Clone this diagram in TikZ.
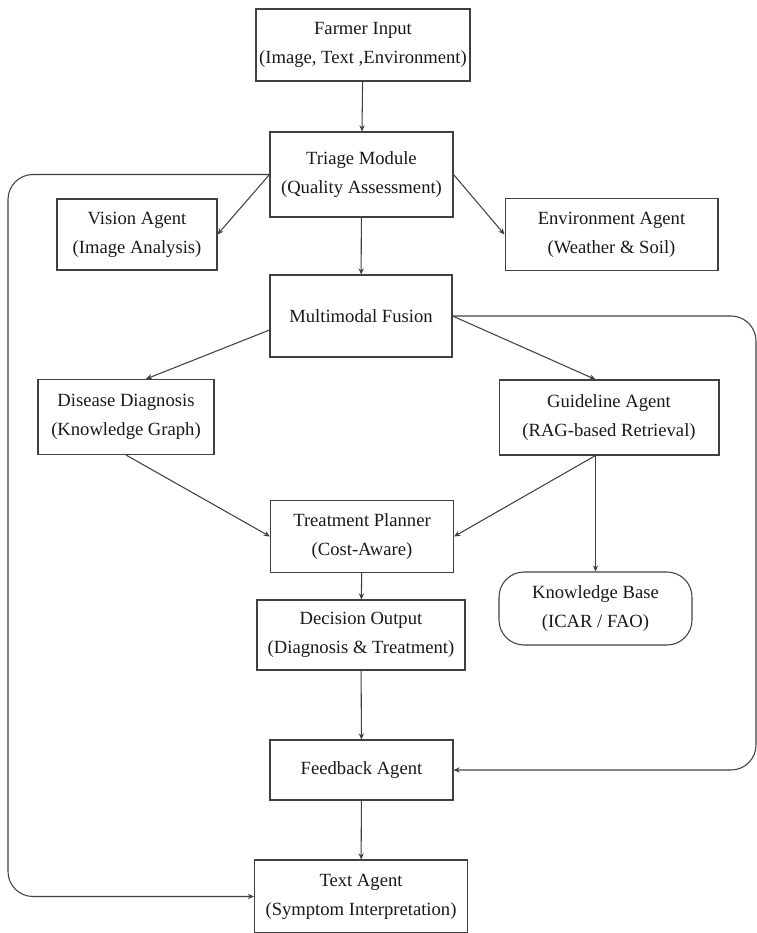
\documentclass[tikz,border=0pt]{standalone}
\usepackage{fontspec}
\setmainfont{Liberation Serif}
\usetikzlibrary{arrows.meta}

\begin{document}
\begin{tikzpicture}[
       x=0.02cm, y=-0.02cm,
       line width=0.6pt,
       draw=black!75,
       font=\fontsize{10.6}{16.5}\selectfont,
       bloc/.style={
         draw,
         rectangle,
         align=center,
         inner sep=0pt,
         text=black!90
       },
       kbloc/.style={
         bloc,
         rounded corners=0.5cm
       },
       fl/.style={
         -{Stealth[length=3.5pt,width=3pt]}
       }
     ]

       \useasboundingbox (0,0) rectangle (757,933);

       \node (b1) at (363,45) [bloc,minimum width=4.28cm,minimum height=1.44cm]{Farmer Input\\(Image, Text ,Environment)};
       \node (b2) at (361.5,174.5) [bloc,minimum width=3.66cm,minimum height=1.7cm]{Triage Module\\(Quality Assessment)};
       \node (b3) at (137,234.5) [bloc,minimum width=3.2cm,minimum height=1.42cm]{Vision Agent\\(Image Analysis)};
       \node (b4) at (611.5,234.5) [bloc,minimum width=4.26cm,minimum height=1.44cm]{Environment Agent\\(Weather \& Soil)};
       \node (b5) at (361,316) [bloc,minimum width=3.64cm,minimum height=1.64cm]{Multimodal Fusion};
       \node (b6) at (126,417) [bloc,minimum width=3.52cm,minimum height=1.5cm]{Disease Diagnosis\\(Knowledge Graph)};
       \node (b7) at (609,417.5) [bloc,minimum width=4.4cm,minimum height=1.5cm]{Guideline Agent\\(RAG-based Retrieval)};
       \node (b8) at (362,536.5) [bloc,minimum width=3.66cm,minimum height=1.44cm]{Treatment Planner\\(Cost-Aware)};
       \node (b9) at (595.5,608.5) [kbloc,minimum width=3.86cm,minimum height=1.46cm]{Knowledge Base\\(ICAR / FAO)};
       \node (b10) at (361,635) [bloc,minimum width=4.16cm,minimum height=1.4cm]{Decision Output\\(Diagnosis \& Treatment)};
       \node (b11) at (361.5,770) [bloc,minimum width=3.66cm,minimum height=1.2cm]{Feedback Agent};
       \node (b12) at (361,896.5) [bloc,minimum width=4.26cm,minimum height=1.46cm]{Text Agent\\(Symptom Interpretation)};

       \coordinate (l) at (8,0);
       \coordinate (r) at (756,0);

       \draw[fl] (b1) -- (b2);
       \draw[fl] (b2.west) -- (b3.east);
       \draw[fl] (b2.east) -- (b4.west);
       \draw[fl] (b2) -- (b5);

       \draw[fl] ([yshift=-0.28cm]b5.west) -- ([xshift=0.4cm]b6.north);
       \draw[fl] (b5.east) -- (b7.north -| b9.north);

       \draw[fl] (b6.south) -- (b8.west);
       \draw[fl] (b7.south -| b9.north) -- (b8.east);
       \draw[fl] (b7.south -| b9.north) -- (b9.north);

       \draw[fl] (b8) -- (b10);
       \draw[fl] (b10) -- (b11);
       \draw[fl] (b11) -- (b12);

       \draw[fl,rounded corners=0.5cm] (b2.west) -- (b2.west -| l) -- (b12.west -| l) -- (b12.west);
       \draw[fl,rounded corners=0.5cm] (b5.east) -- (b5.east -| r) -- (b11.east -| r) -- (b11.east);

\end{tikzpicture}
\end{document}
